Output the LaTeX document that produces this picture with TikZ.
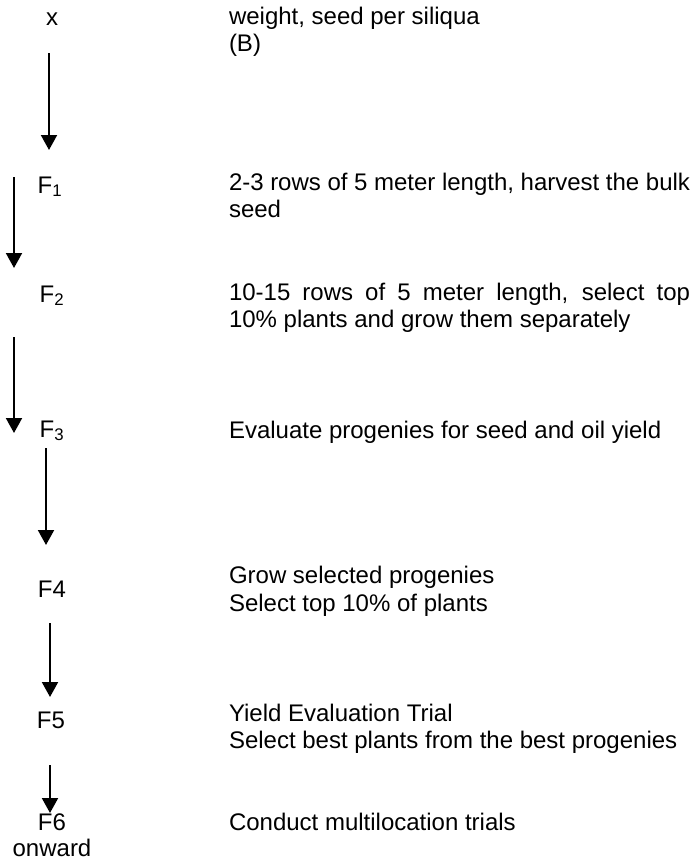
\documentclass[tikz,border=0pt]{standalone}
\usepackage{fontspec}
\setmainfont{Liberation Sans}
\usetikzlibrary{arrows.meta}
\begin{document}
\begin{tikzpicture}[x=1pt,y=-1pt,
  every node/.style={inner sep=0pt, outer sep=0pt, font=\fontsize{24}{27.5}\selectfont},
  gen/.style={anchor=base},
  desc/.style={anchor=base west},
  flow/.style={line width=2pt, -{Triangle[width=16pt,length=15pt]}}]
\useasboundingbox (0,0) rectangle (698,863);
% generation labels
\node[gen] (gx) at (52,25) {x};
\node[gen] (g1) at (50,193) {F\textsubscript{1}};
\node[gen] (g2) at (52,302) {F\textsubscript{2}};
\node[gen] (g3) at (52,437) {F\textsubscript{3}};
\node[gen] (g4) at (52,597) {F4};
\node[gen] (g5) at (51,728) {F5};
\node[gen] (g6) at (52,830) {F6};
\node[gen] (g6b) at (52,856) {onward};
% descriptions
\node[desc] (t0a) at (229,24) {weight, seed per siliqua};
\node[desc] (t0b) at (229,51) {(B)};
\node[desc] (t1a) at (229,190) {\makebox[461pt][s]{2-3 rows of 5 meter length, harvest the bulk}};
\node[desc] (t1b) at (229,217) {seed};
\node[desc] (t2a) at (229,300) {\makebox[461pt][s]{10-15 rows of 5 meter length, select top}};
\node[desc] (t2b) at (229,327) {10\% plants and grow them separately};
\node[desc] (t3a) at (229,438) {Evaluate progenies for seed and oil yield};
\node[desc] (t4a) at (229,583) {Grow selected progenies};
\node[desc] (t4b) at (229,611) {Select top 10\% of plants};
\node[desc] (t5a) at (229,721) {Yield Evaluation Trial};
\node[desc] (t5b) at (229,748) {Select best plants from the best progenies};
\node[desc] (t6a) at (229,830) {Conduct multilocation trials};
% arrows
\coordinate (a1s) at (49,53);  \coordinate (a1e) at (49,150);
\coordinate (a2s) at (14,177); \coordinate (a2e) at (14,268);
\coordinate (a3s) at (14,337); \coordinate (a3e) at (14,433);
\coordinate (a4s) at (46,448); \coordinate (a4e) at (46,545);
\coordinate (a5s) at (50,623); \coordinate (a5e) at (50,697);
\coordinate (a6s) at (50,765); \coordinate (a6e) at (50,813);
\draw[flow] (a1s) -- (a1e);
\draw[flow] (a2s) -- (a2e);
\draw[flow] (a3s) -- (a3e);
\draw[flow] (a4s) -- (a4e);
\draw[flow] (a5s) -- (a5e);
\draw[flow] (a6s) -- (a6e);
\end{tikzpicture}
\end{document}
